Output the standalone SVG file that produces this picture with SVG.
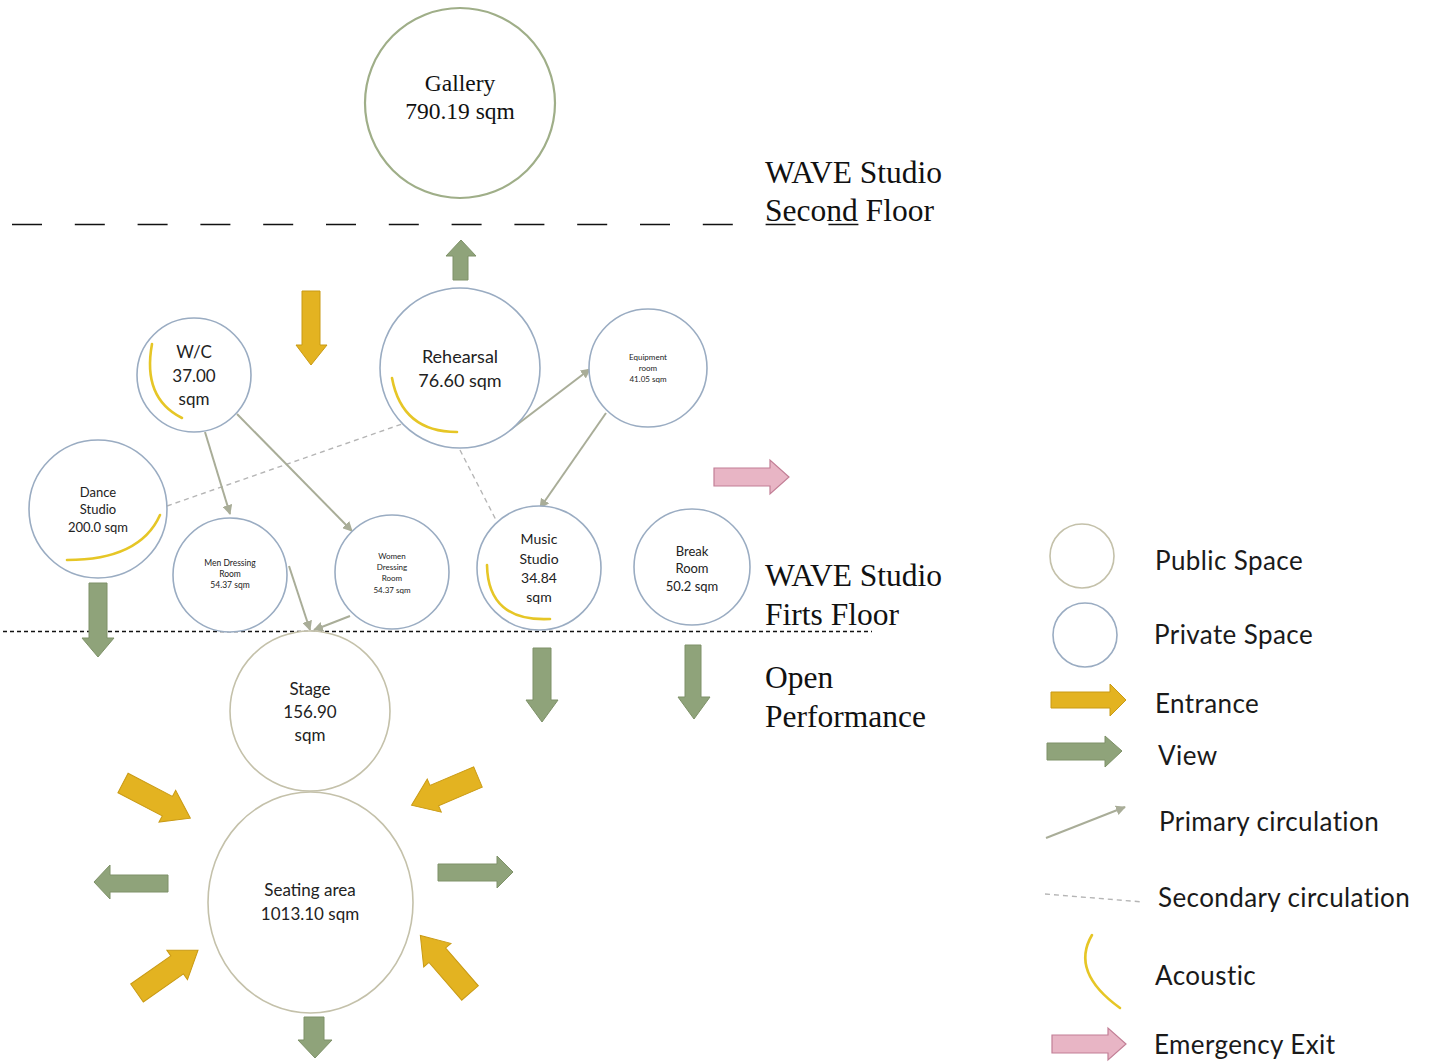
<svg xmlns="http://www.w3.org/2000/svg" xmlns:xlink="http://www.w3.org/1999/xlink" width="1430" height="1064" viewBox="0 0 1430 1064">
<style>
.pub{fill:#fff;stroke:#c4c1aa;stroke-width:1.6}
.gal{fill:#fff;stroke:#9fae88;stroke-width:2.2}
.pri{fill:#fff;stroke:#9aacc2;stroke-width:1.6}
.ac{fill:none;stroke:#e6c626;stroke-width:2.6;stroke-linecap:round}
.t{font-family:Lato,"Open Sans","Liberation Sans",sans-serif;fill:#222;text-anchor:middle}
.s{font-family:"Liberation Serif","DejaVu Serif",serif;fill:#111}
.lg{font-family:Lato,"Open Sans","Liberation Sans",sans-serif;fill:#1a1a1a;font-size:26px;letter-spacing:0.4px}
.yel{fill:#e3b321;stroke:#c99a14;stroke-width:1}
.grn{fill:#8fa37a;stroke:#7e9168;stroke-width:1}
.pnk{fill:#e8b5c5;stroke:#c27f96;stroke-width:1.2}
.pc{stroke:#a9ad98;stroke-width:2;fill:none;marker-end:url(#ah)}
.sc{stroke:#b5b5b5;stroke-width:1.4;stroke-dasharray:5 4;fill:none}
</style>
<defs>
<marker id="ah" viewBox="0 0 10 10" refX="9" refY="5" markerWidth="5" markerHeight="5" orient="auto" markerUnits="strokeWidth">
<path d="M0,0 L10,5 L0,10 Z" fill="#a9ad98"/>
</marker>
<path id="ya" d="M0,-11 L50,-11 L50,-18 L76,0 L50,18 L50,11 L0,11 Z"/>
</defs>
<rect width="1430" height="1064" fill="#fff"/>

<!-- floor lines -->
<line x1="12" y1="224.5" x2="860" y2="224.5" stroke="#111" stroke-width="1.3" stroke-dasharray="30 32.8"/>
<line x1="3" y1="631.5" x2="872" y2="631.5" stroke="#111" stroke-width="1.3" stroke-dasharray="4 3"/>

<!-- floor labels -->
<text class="s" x="765" y="183" font-size="31.5">WAVE Studio</text>
<text class="s" x="765" y="221" font-size="31.5">Second Floor</text>
<text class="s" x="765" y="586" font-size="31.5">WAVE Studio</text>
<text class="s" x="765" y="625" font-size="31.5">Firts Floor</text>
<text class="s" x="765" y="688" font-size="31.5">Open</text>
<text class="s" x="765" y="727" font-size="31.5">Performance</text>

<!-- connectors -->
<g id="connectors">
<line class="sc" x1="167" y1="506" x2="402" y2="424"/>
<line class="sc" x1="460" y1="450" x2="497" y2="522"/>
<line class="pc" x1="510" y1="430" x2="590" y2="369"/>
<line class="pc" x1="606" y1="413" x2="540" y2="508"/>
<line class="pc" x1="205" y1="432" x2="230" y2="514"/>
<line class="pc" x1="237" y1="414" x2="352" y2="531"/>
<line class="pc" x1="289" y1="566" x2="310" y2="630"/>
<line class="pc" x1="350" y1="616" x2="314" y2="630"/>
</g>

<!-- nodes -->
<g id="gallery">
<circle class="gal" cx="460" cy="103" r="95"/>
<text class="s" x="460" y="91" font-size="23.5" text-anchor="middle">Gallery</text>
<text class="s" x="460" y="119" font-size="23.5" text-anchor="middle">790.19 sqm</text>
</g>
<g id="rehearsal">
<circle class="pri" cx="460" cy="368" r="80"/>
<path class="ac" d="M392,378 Q402,432 457,432"/>
<text class="t" x="460" y="363" font-size="18">Rehearsal</text>
<text class="t" x="460" y="387" font-size="18">76.60 sqm</text>
</g>
<g id="equipment">
<circle class="pri" cx="648" cy="368" r="59"/>
<text class="t" x="648" y="360" font-size="8">Equipment</text>
<text class="t" x="648" y="371" font-size="8">room</text>
<text class="t" x="648" y="382" font-size="8">41.05 sqm</text>
</g>
<g id="wc">
<circle class="pri" cx="194" cy="375" r="57"/>
<path class="ac" d="M152,344 Q142,398 182,418"/>
<text class="t" x="194" y="358" font-size="17">W/C</text>
<text class="t" x="194" y="382" font-size="17">37.00</text>
<text class="t" x="194" y="405" font-size="17">sqm</text>
</g>
<g id="dance">
<circle class="pri" cx="98" cy="509" r="69"/>
<path class="ac" d="M160,515 Q140,560 67,560"/>
<text class="t" x="98" y="497" font-size="13">Dance</text>
<text class="t" x="98" y="514" font-size="13">Studio</text>
<text class="t" x="98" y="532" font-size="13">200.0 sqm</text>
</g>
<g id="men">
<circle class="pri" cx="230" cy="575" r="57"/>
<text class="t" x="230" y="566" font-size="8.5">Men Dressing</text>
<text class="t" x="230" y="577" font-size="8.5">Room</text>
<text class="t" x="230" y="588" font-size="8.5">54.37 sqm</text>
</g>
<g id="women">
<circle class="pri" cx="392" cy="572" r="57"/>
<text class="t" x="392" y="559" font-size="8">Women</text>
<text class="t" x="392" y="570" font-size="8">Dressing</text>
<text class="t" x="392" y="581" font-size="8">Room</text>
<text class="t" x="392" y="593" font-size="8">54.37 sqm</text>
</g>
<g id="music">
<circle class="pri" cx="539" cy="568" r="62"/>
<path class="ac" d="M487,565 Q488,622 550,619"/>
<text class="t" x="539" y="544" font-size="14">Music</text>
<text class="t" x="539" y="564" font-size="14">Studio</text>
<text class="t" x="539" y="583" font-size="14">34.84</text>
<text class="t" x="539" y="602" font-size="14">sqm</text>
</g>
<g id="break">
<circle class="pri" cx="692" cy="567" r="58"/>
<text class="t" x="692" y="556" font-size="13">Break</text>
<text class="t" x="692" y="573" font-size="13">Room</text>
<text class="t" x="692" y="591" font-size="13">50.2 sqm</text>
</g>
<g id="stage">
<circle class="pub" cx="310" cy="711" r="80"/>
<text class="t" x="310" y="695" font-size="17">Stage</text>
<text class="t" x="310" y="718" font-size="17">156.90</text>
<text class="t" x="310" y="741" font-size="17">sqm</text>
</g>
<g id="seating">
<ellipse class="pub" cx="310.5" cy="902.5" rx="102.5" ry="110.5"/>
<text class="t" x="310" y="896" font-size="17">Seating area</text>
<text class="t" x="310" y="920" font-size="17">1013.10 sqm</text>
</g>

<!-- entrance / view / exit arrows -->
<g id="arrows">
<polygon class="grn" points="453,280 453,256 446,256 461,240 476,256 468,256 468,280"/>
<polygon class="yel" points="302,291 320,291 320,345 327,345 311,365 296,345 302,345"/>
<polygon class="grn" points="89,583 107,583 107,638 114,638 98,657 82,638 89,638"/>
<polygon class="grn" points="533,648 551,648 551,700 558,700 542,722 526,700 533,700"/>
<polygon class="grn" points="685,645 701,645 701,697 710,697 694,719 678,697 685,697"/>
<polygon class="grn" points="304,1017 324,1017 324,1040 332,1040 315,1058 298,1040 304,1040"/>
<polygon class="grn" points="168,875 168,892 110,892 110,899 94,882 110,865 110,875"/>
<polygon class="grn" points="438,864 497,864 497,856 513,872 497,888 497,881 438,881"/>
<polygon class="pnk" points="714,468 770,468 770,460 789,477 770,494 770,486 714,486"/>
<use xlink:href="#ya" class="yel" transform="translate(123,783) rotate(27.6)"/>
<use xlink:href="#ya" class="yel" transform="translate(478,777) rotate(157) scale(0.95,1)"/>
<use xlink:href="#ya" class="yel" transform="translate(137,993) rotate(-35) scale(0.98,1)"/>
<use xlink:href="#ya" class="yel" transform="translate(470,993) rotate(-130.8)"/>
</g>

<!-- legend -->
<g id="legend">
<circle class="pub" cx="1082" cy="556" r="32"/>
<text class="lg" x="1155" y="570">Public Space</text>
<circle class="pri" cx="1085" cy="635" r="32"/>
<text class="lg" x="1154" y="644">Private Space</text>
<polygon class="yel" points="1051,692 1110,692 1110,684 1126,700 1110,716 1110,708 1051,708"/>
<text class="lg" x="1155" y="713">Entrance</text>
<polygon class="grn" points="1047,743 1105,743 1105,736 1122,751 1105,767 1105,760 1047,760"/>
<text class="lg" x="1158" y="765">View</text>
<line class="pc" x1="1046" y1="838" x2="1125" y2="807"/>
<text class="lg" x="1159" y="831">Primary circulation</text>
<line class="sc" x1="1045" y1="894" x2="1143" y2="902" stroke-dasharray="4 3"/>
<text class="lg" x="1158" y="907">Secondary circulation</text>
<path class="ac" d="M1092,935 Q1070,972 1120,1008" stroke-width="2"/>
<text class="lg" x="1155" y="985">Acoustic</text>
<polygon class="pnk" points="1052,1035 1108,1035 1108,1028 1126,1044 1108,1060 1108,1053 1052,1053"/>
<text class="lg" x="1154" y="1054">Emergency Exit</text>
</g>
</svg>
